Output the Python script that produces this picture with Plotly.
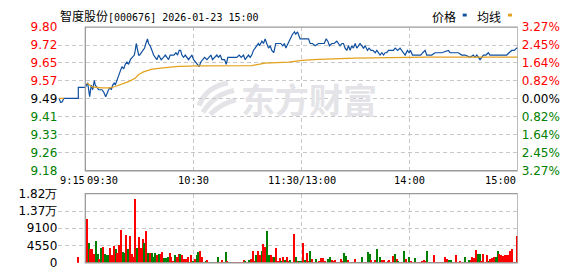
import plotly.graph_objects as go

# ---------------- data ----------------
PREV_CLOSE = 9.49
stock_name = "智度股份"
stock_code = "[000676]"
stamp = "2026-01-23 15:00"

pct_ticks = [3.27, 2.45, 1.64, 0.82, 0.00, -0.82, -1.64, -2.45, -3.27]
price_tick_labels = ["9.80", "9.72", "9.65", "9.57", "9.49", "9.41", "9.33", "9.26", "9.18"]
pct_tick_labels = ["3.27%", "2.45%", "1.64%", "0.82%", "0.00%", "0.82%", "1.64%", "2.45%", "3.27%"]
vol_ticks = [0, 4550, 9100, 13650, 18200]
vol_tick_labels = ["0", "4550", "9100", "1.37万", "1.82万"]

time_labels = ["9:15", "09:30", "10:30", "11:30/13:00", "14:00", "15:00"]
time_pos = [0, 15, 75, 135, 195, 255]      # minutes after 9:15, lunch collapsed
PRE_LEN = 15                               # 9:15-9:30 call auction minutes

# call auction (minutes after 9:15)
pre_min = [0.4, 1.3, 2.2, 3.1, 11.1, 11.1]
pre_price = [9.493, 9.475, 9.478, 9.493, 9.493, 9.54]
pre_avg_min = [0.4, 3.1]
pre_avg = [9.493, 9.493]
pre_vol_min = [11]
pre_vol = [1650]

# continuous trading (minutes after 9:30)
trade_min = [0, 1.3, 2.4, 3.3, 4.1, 5.0, 5.5, 6.5, 7.4, 9.2, 10.2, 11.3, 12.4, 12.9, 13.9, 14.4,
             15.2, 16.1, 16.6, 17.6, 18.5, 19.4, 20.3, 21.3, 22.2, 23.1, 24.0, 25.0, 26.2, 27.2,
             27.7, 28.3, 28.8, 29.6, 30.1, 31.1, 31.8, 32.9, 33.6, 34.5, 35.1, 36.0, 37.0, 37.9,
             38.8, 39.7, 40.7, 42.1, 43.4, 44.4, 45.3, 46.2, 47.1, 48.4, 49.2, 50.3, 51.2, 52.1,
             52.9, 53.6, 54.5, 55.5, 56.4, 57.3, 58.2, 59.1, 60.1, 61.0, 61.9, 63.2, 64.1, 65.1,
             66.2, 67.5, 68.4, 69.7, 70.6, 71.7, 73.0, 73.9, 74.9, 75.8, 77.3, 78.2, 79.1, 81.3,
             83.2, 84.1, 85.4, 86.5, 87.8, 88.7, 89.6, 90.6, 91.5, 92.4, 93.3, 94.3, 95.2, 96.1,
             96.7, 98.0, 98.9, 99.8, 100.7, 101.7, 102.6, 103.5, 104.6, 105.7, 107.2, 108.5,
             109.6, 110.5, 111.3, 112.4, 113.7, 115.0, 116.1, 116.8, 117.8, 118.3, 119.2, 120.5,
             121.7, 123.0, 123.9, 124.8, 126.1, 127.6, 129.4, 131.3, 132.6, 133.7, 134.6, 135.5,
             136.8, 138.1, 139.6, 140.5, 141.4, 142.4, 143.3, 144.2, 145.1, 146.1, 147.0, 147.9,
             148.8, 149.8, 150.7, 151.6, 152.5, 153.5, 154.4, 155.3, 156.6, 157.5, 158.6, 159.6,
             160.9, 161.8, 162.7, 163.6, 164.6, 165.5, 166.4, 167.3, 168.3, 170.1, 171.0, 172.0,
             173.4, 174.7, 175.6, 176.6, 177.5, 178.8, 179.7, 180.5, 181.6, 183.0, 184.3, 185.3,
             186.2, 187.3, 188.6, 189.5, 190.4, 192.3, 194.1, 197.8, 201.5, 202.5, 207.1, 208.9,
             210.8, 213.6, 215.4, 216.3, 217.3, 218.2, 219.1, 221.0, 222.4, 223.7, 224.6, 226.5,
             228.3, 230.2, 232.0, 233.9, 235.2, 236.7, 238.1, 239.4, 240.0]
trade_price = [9.54, 9.56, 9.50, 9.55, 9.53, 9.57, 9.55, 9.54, 9.53, 9.53, 9.52, 9.50, 9.52, 9.53, 9.54, 9.53,
               9.55, 9.56, 9.55, 9.57, 9.59, 9.61, 9.63, 9.62, 9.64, 9.65, 9.64, 9.66, 9.67, 9.68,
               9.70, 9.73, 9.71, 9.68, 9.68, 9.69, 9.70, 9.71, 9.73, 9.75, 9.73, 9.72, 9.70, 9.68,
               9.67, 9.66, 9.68, 9.66, 9.67, 9.68, 9.67, 9.66, 9.68, 9.68, 9.68, 9.69, 9.68, 9.70,
               9.70, 9.68, 9.67, 9.68, 9.67, 9.66, 9.67, 9.68, 9.66, 9.65, 9.64, 9.63, 9.65, 9.66,
               9.67, 9.66, 9.67, 9.68, 9.66, 9.67, 9.68, 9.67, 9.68, 9.66, 9.66, 9.64, 9.67, 9.67,
               9.67, 9.67, 9.68, 9.67, 9.68, 9.66, 9.67, 9.68, 9.67, 9.68, 9.70, 9.71, 9.72, 9.73,
               9.72, 9.74, 9.73, 9.75, 9.73, 9.71, 9.72, 9.70, 9.69, 9.73, 9.73, 9.73,
               9.72, 9.73, 9.71, 9.73, 9.75, 9.77, 9.78, 9.77, 9.78, 9.77, 9.75, 9.75,
               9.75, 9.75, 9.75, 9.73, 9.73, 9.72, 9.73, 9.73, 9.73, 9.75, 9.74, 9.72,
               9.73, 9.73, 9.74, 9.73, 9.72, 9.73, 9.73, 9.71, 9.70, 9.72, 9.70, 9.72,
               9.71, 9.73, 9.71, 9.72, 9.73, 9.72, 9.71, 9.72, 9.70, 9.71, 9.70, 9.70,
               9.69, 9.70, 9.69, 9.68, 9.69, 9.68, 9.69, 9.69, 9.70, 9.70, 9.70, 9.71,
               9.70, 9.71, 9.70, 9.69, 9.68, 9.70, 9.69, 9.70, 9.68, 9.68, 9.68, 9.68,
               9.68, 9.69, 9.70, 9.68, 9.68, 9.68, 9.69, 9.69, 9.70, 9.69, 9.69, 9.68,
               9.68, 9.67, 9.68, 9.67, 9.68, 9.67, 9.66, 9.68, 9.68, 9.69, 9.68, 9.68,
               9.68, 9.68, 9.68, 9.68, 9.69, 9.70, 9.70, 9.71, 9.71]
avg_min = [0.9, 3.7, 9.2, 13.9, 16.6, 20.3, 24.0, 27.7, 29.6, 32.3, 37.0, 44.4, 51.8, 62.8,
           92.4, 96.1, 99.8, 112.8, 115.5, 120.2, 129.4, 149.8, 188.6, 240.0]
avg_price = [9.559, 9.542, 9.538, 9.538, 9.544, 9.555, 9.565, 9.580, 9.596, 9.607, 9.619, 9.626,
             9.631, 9.633, 9.634, 9.640, 9.645, 9.649, 9.653, 9.657, 9.661, 9.667, 9.671, 9.671]

# per-minute volume, minutes 1..240 after 9:30 (r = up, g = down)
vol = [11580, 5380, 3720, 3720, 2480, 5700, 2480, 990, 3970, 4140,
       2480, 2070, 2230, 3970, 2070, 4380, 3720, 2730, 4710, 8680,
       3040, 2730, 7440, 3720, 7190, 2320, 1570, 16790, 3970, 6950,
       3970, 6450, 5210, 8440, 2730, 2560, 2730, 1650, 2730, 2070,
       2480, 2480, 2980, 1240, 1240, 1740, 2730, 1490, 580, 2230,
       1650, 2480, 2320, 2070, 1070, 1070, 1490, 250, 2230, 580,
       990, 2230, 3040, 3310, 1490, 410, 580, 830, 250, 250,
       250, 250, 250, 1650, 250, 830, 250, 2890, 580, 250,
       250, 250, 250, 250, 250, 250, 250, 830, 580, 250,
       830, 1070, 3310, 580, 2070, 3060, 2070, 3060, 4960, 4300,
       8520, 2230, 2070, 1650, 1490, 3970, 580, 1240, 580, 1490,
       830, 1490, 660, 830, 250, 7690, 1490, 660, 580, 580,
       5210, 830, 2730, 580, 3310, 990, 410, 990, 410, 580,
       1240, 1240, 580, 250, 990, 1490, 830, 580, 830, 250,
       250, 990, 580, 2730, 1820, 830, 250, 250, 250, 990,
       250, 250, 250, 1740, 250, 250, 2890, 2320, 830, 250,
       830, 3720, 250, 1740, 830, 830, 250, 580, 830, 250,
       1820, 2320, 990, 580, 410, 410, 3060, 990, 250, 1490,
       580, 250, 1240, 250, 250, 410, 580, 830, 580, 3060,
       250, 250, 250, 2070, 250, 250, 250, 250, 250, 1650,
       990, 830, 830, 250, 250, 2070, 250, 580, 250, 410,
       1490, 410, 830, 830, 1650, 1240, 3470, 2320, 2480, 580,
       2480, 410, 2230, 580, 1070, 1240, 1490, 1490, 3310, 2480,
       2070, 1820, 2230, 2070, 2070, 3230, 3720, 250, 250, 7190]
vol_dir = ("rgrrrggrgr" "gggrrrgrrr" "ggrgrrrrgr" "rrgrgrgggr" "grrgggrrrg"
           "rrgrrrrgrg" "rggrrggrrg" "grrgrrggrg" "grrrrrrrgr" "grrrgrrgrr"
           "ggrrgrrrgr" "grrggrgrgg" "rgrrgrrgrr" "rrrrggrrrr" "rrrggrrgrr"
           "ggrgrrggrg" "rgrgrrgrrr" "rgrgrrgrrg" "rrgrrrrrrg" "rgrrrrrrgr"
           "rggrgrrrrr" "grgrrrrggr" "rrrgrrrggr" "rrrrrrrrgr")
pre_vol_dir = "r"

# ---------------- styles ----------------
BLUE = "#0e4f9f"
ORANGE = "#e3a11c"
RED = "#ff0000"
GREEN = "#008000"
GRID = "#c8c8c8"
FRAME = "#9a9a9a"
WM = "#e4e4e8"
NUM_FONT = "DejaVu Sans"
MONO_FONT = "DejaVu Sans Mono"
CJK_FONT = "Noto Sans CJK SC"

W, H = 578, 276
X0, X1 = 58.3, 517.7          # pixel span of the time axis
PY0, PY1 = 21.3, 172.5        # price panel
VY0, VY1 = 196.7, 269.5       # volume panel


def px(x, y):
    return f"{x / W:.5f},{1 - y / H:.5f}"


def colored(txt, pct):
    c = RED if pct > 0 else (GREEN if pct < 0 else "#000000")
    return f'<span style="color:{c}">{txt}</span>'


dir_color = {"r": RED, "g": GREEN}

lo = PREV_CLOSE * (1 - pct_ticks[0] / 100)
hi = PREV_CLOSE * (1 + pct_ticks[0] / 100)
price_tickvals = [PREV_CLOSE * (1 + p / 100) for p in pct_ticks]

fig = go.Figure()

# price line (call auction + trading)
fig.add_trace(go.Scatter(
    x=pre_min + [PRE_LEN + m for m in trade_min],
    y=pre_price + trade_price,
    mode="lines", line=dict(color=BLUE, width=1.2),
    xaxis="x", yaxis="y", hoverinfo="skip"))
# average line (plotted on percent axis)
fig.add_trace(go.Scatter(
    x=pre_avg_min, y=[(p / PREV_CLOSE - 1) * 100 for p in pre_avg],
    mode="lines", line=dict(color=ORANGE, width=1.2),
    xaxis="x", yaxis="y2", hoverinfo="skip"))
fig.add_trace(go.Scatter(
    x=[PRE_LEN + m for m in avg_min], y=[(p / PREV_CLOSE - 1) * 100 for p in avg_price],
    mode="lines", line=dict(color=ORANGE, width=1.2),
    xaxis="x", yaxis="y2", hoverinfo="skip"))
# volume bars
fig.add_trace(go.Bar(
    x=pre_vol_min + [PRE_LEN + i + 1 for i in range(len(vol))],
    y=pre_vol + vol,
    marker=dict(color=[dir_color[c] for c in pre_vol_dir + vol_dir], line=dict(width=0)),
    width=0.6, xaxis="x2", yaxis="y3", hoverinfo="skip"))

xdom = [X0 / W, X1 / W]
grid_kw = dict(showgrid=True, gridcolor=GRID, gridwidth=1, griddash="4px,3px",
               zeroline=False, showline=False, ticks="")

fig.update_layout(
    width=W, height=H, margin=dict(l=0, r=0, t=0, b=0),
    paper_bgcolor="white", plot_bgcolor="white", showlegend=False,
    font=dict(family=NUM_FONT, size=12, color="#000000"),
    bargap=0,
    xaxis=dict(domain=xdom, range=[0, time_pos[-1]], anchor="y",
               tickvals=[time_pos[0], time_pos[2], time_pos[3], time_pos[4]],
               showticklabels=False, **grid_kw),
    xaxis2=dict(domain=xdom, range=[0, time_pos[-1]], anchor="y3", matches="x",
                tickvals=[time_pos[2], time_pos[3], time_pos[4]],
                showticklabels=False, **grid_kw),
    yaxis=dict(domain=[1 - PY1 / H, 1 - PY0 / H], range=[lo, hi], anchor="x",
               tickvals=price_tickvals,
               ticktext=[colored(t, p) for t, p in zip(price_tick_labels, pct_ticks)],
               tickfont=dict(family=NUM_FONT, size=12), **grid_kw),
    yaxis2=dict(range=[-pct_ticks[0], pct_ticks[0]], overlaying="y", side="right", anchor="x",
                tickvals=pct_ticks,
                ticktext=[colored(t, p) for t, p in zip(pct_tick_labels, pct_ticks)],
                tickfont=dict(family=NUM_FONT, size=12), ticklabelstandoff=3,
                showgrid=False, zeroline=False, showline=False, ticks=""),
    yaxis3=dict(domain=[1 - VY1 / H, 1 - VY0 / H], range=[0, vol_ticks[-1]], anchor="x2",
                tickvals=vol_ticks, ticktext=vol_tick_labels,
                tickfont=dict(family=NUM_FONT, size=12, color="#000000"), **grid_kw),
)

# solid frames around the trading session
for xr, yr in (("x", "y"), ("x2", "y3")):
    fig.add_shape(type="rect", xref=xr, yref=f"{yr} domain",
                  x0=time_pos[1], x1=time_pos[-1], y0=0, y1=1,
                  line=dict(color=FRAME, width=1.3), fillcolor="rgba(0,0,0,0)", layer="above")

# time labels
anchors = ["left", "left", "center", "center", "center", "right"]
for lab, pos, anc in zip(time_labels, time_pos, anchors):
    fig.add_annotation(x=pos, y=1 - 182.5 / H, xref="x", yref="paper", text=lab,
                       showarrow=False, xanchor=anc, yanchor="middle",
                       font=dict(family=MONO_FONT, size=10.3, color="#000000"))

# title
fig.add_annotation(
    x=58 / W, y=1 - 8.5 / H, xref="paper", yref="paper", xanchor="left", yanchor="middle",
    showarrow=False,
    text=(f'<span style="font-family:{CJK_FONT};font-size:12px">{stock_name}</span>'
          f'{stock_code} {stamp}'),
    font=dict(family=MONO_FONT, size=10, color="#000000"))

# legend
for lab, cx, col, mx in (("价格", 443.5, BLUE, 462.7), ("均线", 488.5, ORANGE, 508.0)):
    fig.add_annotation(x=cx / W, y=1 - 10 / H, xref="paper", yref="paper", text=lab,
                       showarrow=False, xanchor="center", yanchor="middle",
                       font=dict(family=CJK_FONT, size=12, color="#000000"))
    fig.add_shape(type="rect", xref="paper", yref="paper",
                  x0=mx / W, x1=(mx + 4) / W, y0=1 - 10 / H, y1=1 - 7 / H,
                  line=dict(width=0), fillcolor=col)

# watermark (logo swooshes + brand text)
for (ax, ay), (cx_, cy_), (bx, by) in (((199, 104), (206, 84), (228, 80)),
                                       ((203, 111), (214, 92), (234, 88)),
                                       ((210, 113), (224, 100), (236, 98))):
    fig.add_shape(type="path", xref="paper", yref="paper",
                  path=f"M{px(ax, ay)} Q{px(cx_, cy_)} {px(bx, by)}",
                  line=dict(color=WM, width=5), layer="below")
fig.add_annotation(x=309 / W, y=1 - 96 / H, xref="paper", yref="paper", text="<b>东方财富</b>",
                   showarrow=False, xanchor="center", yanchor="middle",
                   font=dict(family=CJK_FONT, size=34, color=WM))

fig.write_html("out.html", config={"displayModeBar": False})
